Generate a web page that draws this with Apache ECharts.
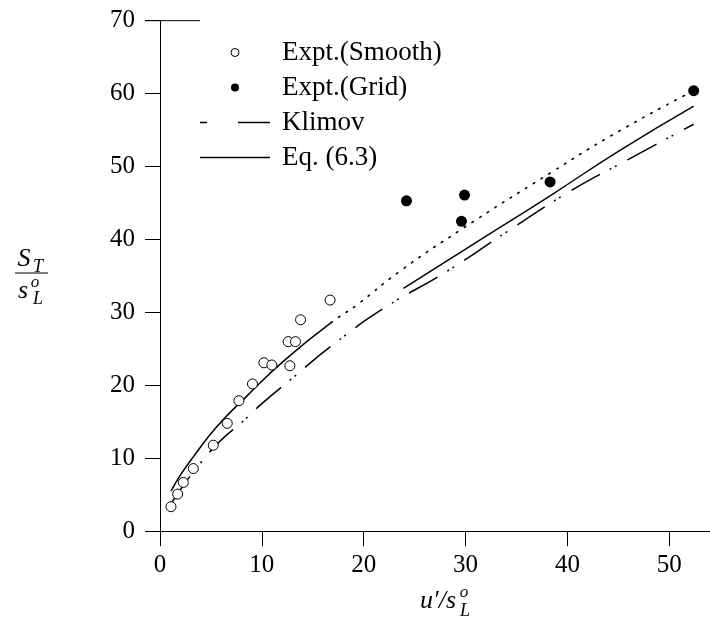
<!DOCTYPE html>
<html><head><meta charset="utf-8">
<script src="https://cdn.jsdelivr.net/npm/echarts/dist/echarts.min.js"></script>
<style>html,body{margin:0;padding:0;background:#fff}#c{width:710px;height:625px}</style>
</head><body><div id="c"></div>
<script>
// ---- data ----
const xTicks = [0, 10, 20, 30, 40, 50];
const yTicks = [0, 10, 20, 30, 40, 50, 60, 70];
const smoothX = [1.08, 1.73, 2.29, 3.27, 5.23, 6.6, 7.75, 9.08, 10.2, 10.98, 12.75, 12.58, 13.3, 13.8, 16.7];
const smoothY = [3.37, 5.1, 6.7, 8.6, 11.8, 14.8, 17.9, 20.2, 23.1, 22.8, 22.7, 26.0, 26.0, 29.0, 31.7];
const gridX = [24.2, 29.9, 29.6, 38.3, 52.4];
const gridY = [45.3, 46.1, 42.5, 47.9, 60.4];
const klimovX = [1.1, 2, 4, 6, 8, 10, 13, 17, 22, 28, 34, 40, 46, 52.4];
const klimovY = [3.8, 5.7, 9.4, 12.5, 14.9, 17.5, 21.0, 25.6, 30.6, 35.5, 41.0, 46.4, 51.0, 55.8];
const eqAX = [1.08, 2, 3.27, 5.55, 8.5, 12.1, 16.8];
const eqAY = [5.5, 7.7, 10.2, 14.3, 18.5, 23.3, 28.6];
const eqBX = [23.9, 30, 38.3, 45, 52.4];
const eqBY = [33.3, 38.7, 46.0, 52.1, 58.3];
const fitX = [16.8, 17.6, 19.3, 23.5, 29.6, 38.3, 45, 52.4];
const fitY = [28.6, 29.4, 31.0, 35.6, 41.4, 49.1, 54.8, 60.4];
const names = ['Expt.(Smooth)', 'Expt.(Grid)', 'Klimov', 'Eq. (6.3)'];

const zip = (xs, ys) => xs.map((x, i) => [x, ys[i]]);
const FONT = 'Liberation Serif';
const FS = 25;

const chart = echarts.init(document.getElementById('c'), null, {renderer: 'canvas'});
const klimovDash = [33, 11, 2, 4, 2, 12];

chart.setOption({
  animation: false,
  backgroundColor: '#fff',
  grid: {left: 160, top: 20.7, width: 551, height: 510.6, containLabel: false},
  xAxis: {
    type: 'value', min: 0, max: 54, interval: 10,
    axisLine: {lineStyle: {color: '#000', width: 1}},
    axisTick: {show: true, inside: false, length: 15, lineStyle: {color: '#000', width: 1}, customValues: xTicks},
    axisLabel: {color: '#000', fontFamily: FONT, fontSize: FS, margin: 22, customValues: xTicks,
      formatter: v => (xTicks.indexOf(v) >= 0 ? String(v) : '')},
    splitLine: {show: false}
  },
  yAxis: {
    type: 'value', min: 0, max: 70, interval: 10,
    axisLine: {show: true, lineStyle: {color: '#000', width: 1}},
    axisTick: {show: true, inside: false, length: 15, lineStyle: {color: '#000', width: 1}},
    axisLabel: {color: '#000', fontFamily: FONT, fontSize: FS, margin: 25,
      formatter: v => (yTicks.indexOf(v) >= 0 ? String(v) : '')},
    splitLine: {show: false}
  },
  legend: {
    orient: 'vertical', left: 195, top: 32.5, itemWidth: 70, itemHeight: 8, itemGap: 5,
    symbolKeepAspect: true,
    textStyle: {color: '#000', fontFamily: FONT, fontSize: 27, lineHeight: 30, padding: [0, 0, 0, 7]},
    data: [
      {name: names[0], icon: 'circle', itemStyle: {color: '#fff', borderColor: '#000', borderWidth: 1}},
      {name: names[1], icon: 'circle', itemStyle: {color: '#000'}},
      {name: names[2], icon: 'path://M0,0L7,0L7,1.5L0,1.5ZM38,0L70,0L70,1.5L38,1.5Z', itemStyle: {color: '#000'}},
      {name: names[3], icon: 'path://M0,0L70,0L70,1.5L0,1.5Z', itemStyle: {color: '#000'}}
    ]
  },
  series: [
    {name: 'fit', type: 'line', data: zip(fitX, fitY), smooth: true, symbol: 'none', silent: true,
      lineStyle: {color: '#000', width: 1.6, type: [1.6, 7.5], cap: 'round'}, z: 1},
    {name: names[2], type: 'line', data: zip(klimovX, klimovY), smooth: true, symbol: 'none',
      lineStyle: {color: '#000', width: 1.5, type: klimovDash}, itemStyle: {color: '#000'}, z: 2},
    {name: names[3], type: 'line', data: zip(eqAX, eqAY), smooth: true, symbol: 'none',
      lineStyle: {color: '#000', width: 1.5}, itemStyle: {color: '#000'}, z: 3},
    {name: names[3], type: 'line', data: zip(eqBX, eqBY), smooth: true, symbol: 'none',
      lineStyle: {color: '#000', width: 1.5}, itemStyle: {color: '#000'}, z: 3},
    {name: names[0], type: 'scatter', data: zip(smoothX, smoothY), symbol: 'circle', symbolSize: 10,
      itemStyle: {color: '#fff', borderColor: '#000', borderWidth: 1, opacity: 1}, z: 5},
    {name: names[1], type: 'scatter', data: zip(gridX, gridY), symbol: 'circle', symbolSize: 11,
      itemStyle: {color: '#000', opacity: 1}, z: 5}
  ],
  graphic: [
    {type: 'line', shape: {x1: 145, y1: 20.7, x2: 200, y2: 20.7}, style: {stroke: '#000', lineWidth: 1}},
    // y axis name: S_T / s_L^o
    {type: 'text', style: {x: 24, y: 259, text: 'S', font: 'italic 26px "Liberation Serif"', fill: '#000', textAlign: 'center', textVerticalAlign: 'middle'}},
    {type: 'text', style: {x: 38, y: 267, text: 'T', font: 'italic 18px "Liberation Serif"', fill: '#000', textAlign: 'center', textVerticalAlign: 'middle'}},
    {type: 'line', shape: {x1: 15, y1: 273, x2: 48, y2: 273}, style: {stroke: '#000', lineWidth: 1.2}},
    {type: 'text', style: {x: 23, y: 291, text: 's', font: 'italic 26px "Liberation Serif"', fill: '#000', textAlign: 'center', textVerticalAlign: 'middle'}},
    {type: 'text', style: {x: 35, y: 283, text: 'o', font: 'italic 17px "Liberation Serif"', fill: '#000', textAlign: 'center', textVerticalAlign: 'middle'}},
    {type: 'text', style: {x: 38, y: 299, text: 'L', font: 'italic 18px "Liberation Serif"', fill: '#000', textAlign: 'center', textVerticalAlign: 'middle'}},
    // x axis name: u'/s_L^o
    {type: 'text', style: {x: 456, y: 601, text: 'u\u2032/s', font: 'italic 26px "Liberation Serif"', fill: '#000', textAlign: 'right', textVerticalAlign: 'middle'}},
    {type: 'text', style: {x: 464, y: 593, text: 'o', font: 'italic 17px "Liberation Serif"', fill: '#000', textAlign: 'center', textVerticalAlign: 'middle'}},
    {type: 'text', style: {x: 465, y: 611, text: 'L', font: 'italic 18px "Liberation Serif"', fill: '#000', textAlign: 'center', textVerticalAlign: 'middle'}}
  ]
});
</script></body></html>
